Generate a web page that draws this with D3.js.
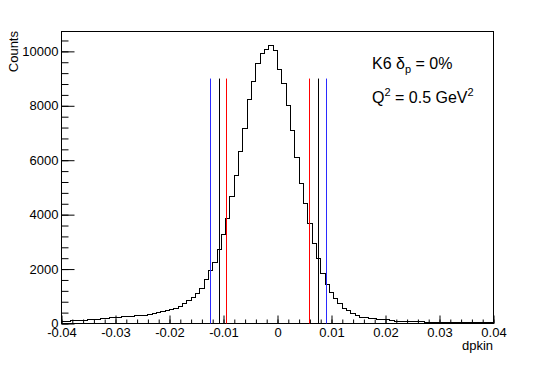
<!DOCTYPE html>
<html>
<head>
<meta charset="utf-8">
<script src="https://cdn.jsdelivr.net/npm/d3@7"></script>
<style>
  body { margin: 0; background: #fff; }
  svg { font-family: "Liberation Sans", Arial, sans-serif; }
</style>
</head>
<body>
<div id="chart"></div>
<script>
// dpkin histogram, 100 bins from -0.04 to 0.04
const xMin = -0.04;
const xMax = 0.04;
const counts = [
    80, 90, 95, 105, 115, 125, 140, 150, 165, 180,
    195, 205, 220, 235, 245, 250, 265, 285, 295, 300,
    340, 370, 400, 430, 470, 500, 564, 637, 723, 845,
    968, 1100, 1290, 1605, 1948, 2231, 2709, 3272, 3871, 4680,
    5440, 6334, 7157, 8246, 8908, 9570, 9914, 10072, 10219, 10035,
    9326, 8811, 8014, 7095, 6114, 5135, 4423, 3688, 2952, 2378,
    1849, 1434, 1128, 907, 724, 540, 460, 356, 294, 233,
    210, 195, 175, 165, 140, 130, 100, 90, 85, 80,
    70, 65, 60, 58, 55, 52, 50, 48, 46, 45,
    44, 43, 42, 41, 40, 40, 39, 38, 37, 36
];

// cut lines (position, colour), drawn up to cutHeight
const cutX = [-0.0125, -0.0107, -0.0094, 0.0059, 0.0075, 0.0090];
const cutColors = ['#2a2aff', '#000000', '#ff0000', '#ff0000', '#000000', '#2a2aff'];
const cutHeight = 9000;

const xTicks = [-0.04, -0.03, -0.02, -0.01, 0, 0.01, 0.02, 0.03, 0.04];
const yTicks = [0, 2000, 4000, 6000, 8000, 10000];

const width = 540, height = 366;
const margin = {top: 31, right: 47, bottom: 43, left: 61};
const w = width - margin.left - margin.right;
const h = height - margin.top - margin.bottom;

const nBins = counts.length;
const binW = (xMax - xMin) / nBins;
const yMax = d3.max(counts) * 1.05;

const svg = d3.select('#chart').append('svg')
    .attr('width', width)
    .attr('height', height);

const g = svg.append('g')
    .attr('transform', `translate(${margin.left + 0.5},${margin.top + 0.5})`);

const x = d3.scaleLinear().domain([xMin, xMax]).range([0, w]);
const y = d3.scaleLinear().domain([0, yMax]).range([h, 0]);

// frame
g.append('rect')
    .attr('width', w)
    .attr('height', h)
    .attr('fill', 'none')
    .attr('stroke', '#000')
    .attr('stroke-width', 1);

// histogram outline as steps
const pts = [[x(xMin), y(0)]];
counts.forEach((c, i) => {
    pts.push([x(xMin + i * binW), y(c)]);
    pts.push([x(xMin + (i + 1) * binW), y(c)]);
});
pts.push([x(xMax), y(0)]);

g.append('path')
    .attr('d', d3.line()(pts))
    .attr('fill', 'none')
    .attr('stroke', '#000')
    .attr('stroke-width', 1)
    .attr('shape-rendering', 'crispEdges');

// axes, ticks pointing inside like ROOT
function styleAxis(sel) {
    sel.select('.domain').remove();
    sel.selectAll('.tick line').attr('stroke', '#000');
    sel.selectAll('text')
        .attr('fill', '#000')
        .style('font-size', '13px')
        .style('font-family', '"Liberation Sans", Arial, sans-serif');
}

const xMinor = d3.range(0, 41).map(i => xMin + i * 0.002);
g.append('g')
    .attr('transform', `translate(0,${h})`)
    .call(d3.axisBottom(x).tickValues(xMinor).tickSize(-4).tickFormat(''))
    .call(styleAxis);
g.append('g')
    .attr('transform', `translate(0,${h})`)
    .call(d3.axisBottom(x).tickValues(xTicks).tickSize(-8).tickPadding(4)
        .tickFormat(d => String(+d.toFixed(2))))
    .call(styleAxis);

const yMinor = d3.range(0, yMax, 400);
g.append('g')
    .call(d3.axisLeft(y).tickValues(yMinor).tickSize(-7).tickFormat(''))
    .call(styleAxis);
g.append('g')
    .call(d3.axisLeft(y).tickValues(yTicks).tickSize(-13).tickPadding(3)
        .tickFormat(d3.format('d')))
    .call(styleAxis);

// vertical cut lines, on top of everything
g.append('g').selectAll('line')
    .data(cutX)
    .join('line')
    .attr('x1', d => Math.round(x(d)))
    .attr('x2', d => Math.round(x(d)))
    .attr('y1', y(0))
    .attr('y2', y(cutHeight))
    .style('stroke', (d, i) => cutColors[i])
    .style('stroke-width', 1);

// axis titles
svg.append('text')
    .attr('x', margin.left + w)
    .attr('y', 350)
    .attr('text-anchor', 'end')
    .style('font-size', '13px')
    .text('dpkin');

svg.append('text')
    .attr('transform', `translate(18,${margin.top}) rotate(-90)`)
    .attr('text-anchor', 'end')
    .style('font-size', '13px')
    .text('Counts');

// labels in the corner
const t1 = svg.append('text')
    .attr('x', 372)
    .attr('y', 69)
    .style('font-size', '16px');
t1.append('tspan').text('K6 δ');
t1.append('tspan').attr('dy', 4).style('font-size', '11px').text('p');
t1.append('tspan').attr('dy', -4).text(' = 0%');

const t2 = svg.append('text')
    .attr('x', 372)
    .attr('y', 103)
    .style('font-size', '16px');
t2.append('tspan').text('Q');
t2.append('tspan').attr('dy', -7).style('font-size', '11px').text('2');
t2.append('tspan').attr('dy', 7).text(' = 0.5 GeV');
t2.append('tspan').attr('dy', -7).style('font-size', '11px').text('2');
</script>
</body>
</html>
